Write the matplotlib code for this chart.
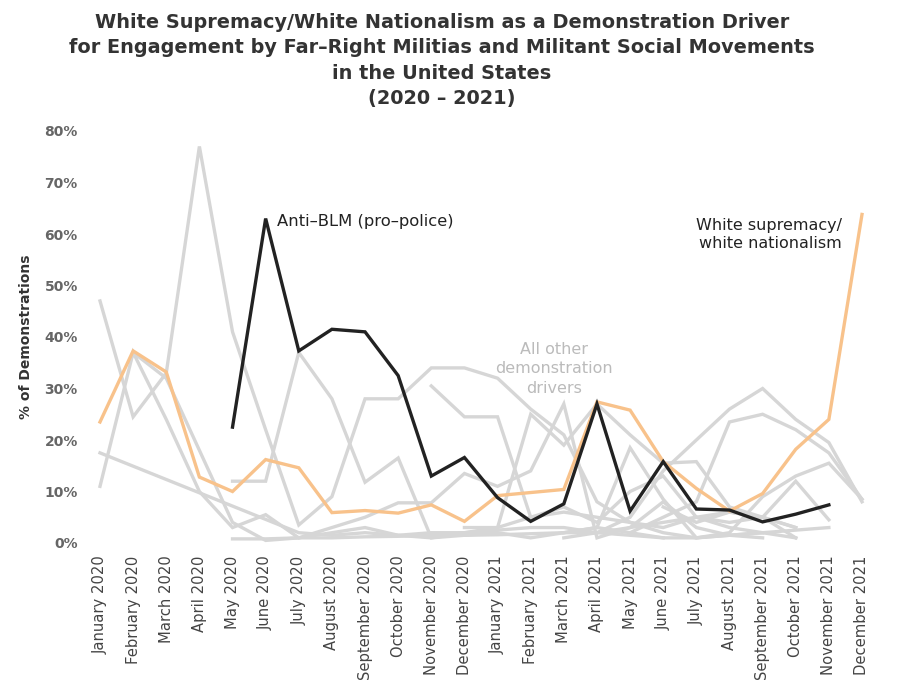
import numpy as np
import matplotlib.pyplot as plt

months = ['January 2020', 'February 2020', 'March 2020', 'April 2020', 'May 2020',
          'June 2020', 'July 2020', 'August 2020', 'September 2020', 'October 2020',
          'November 2020', 'December 2020', 'January 2021', 'February 2021',
          'March 2021', 'April 2021', 'May 2021', 'June 2021', 'July 2021',
          'August 2021', 'September 2021', 'October 2021', 'November 2021',
          'December 2021']

N = None
white_supremacy = [23.5, 37.3, 33.2, 12.8, 10, 16.2, 14.6, 5.9, 6.3, 5.8, 7.4, 4.2,
                   9.2, 9.8, 10.4, 27.4, 25.8, 15.8, 10.6, 6.2, 9.6, 18.2, 24, 63.8]
anti_blm = [N, N, N, N, 22.5, 63, 37.3, 41.5, 41, 32.5, 13, 16.6,
            8.8, 4.2, 7.6, 27, 6.2, 15.8, 6.6, 6.4, 4.1, 5.6, 7.4, N]

# other demonstration drivers (grey)
other1 = [47, 24.5, 33, 77, 41, 22, 3.5, 9, 28, 28, 34, 34, 32, 26, 21, 8, 4, 2, 1, 1.5, 2, 1, N, N]
other2 = [11, 37, 24, 10, 3, 5.5, 1, 2, 3, 1.5, 1, 1.5, 2, 1, 2, 3, 2, 1, N, N, N, N, N, N]
other3 = [17.5, N, N, N, N, N, 2, 1.5, 2, 1.5, 2, 2, 2.5, 3, 3, 2, 3, 4, 5, 4, 5, 3, N, N]
other4 = [N, N, N, N, 0.8, 0.8, 1, 1, 1.2, 1.3, 1.5, 1.5, 1.6, 1.8, 2, 2, 1.5, 1, 1, 1.5, 2, 2.5, 3, N]
other5 = [N, N, N, N, 12, 12, 37, 28, 11.8, 16.5, 1, 2, 3, 5, 6, 5, 4, 3, 5, 3, 2, N, N, N]
other6 = [N, 37, 32, 18, 4, 0.5, 1, 3, 5, 7.8, 7.8, 13.5, 11, 14, 27, 1, 3, 8, 3, 1.5, 1, N, N, N]
other7 = [N, N, N, N, N, N, N, N, N, N, 30.5, 24.5, 24.5, 5, 7, 4, 10, 13, 5, 6, 5, 3, N, N]
other8 = [N, N, N, N, N, N, N, N, N, N, N, 3, 3, 25, 19, 27, 21, 15.5, 15.8, 7, 5, 1, N, N]
other9 = [N, N, N, N, N, N, N, N, N, N, N, N, N, N, 1, 2, 5, 14, 20, 26, 30, 24, 19.5, 8]
other10 = [N, N, N, N, N, N, N, N, N, N, N, N, N, N, N, N, 2, 5, 8, 23.5, 25, 22, 17.5, 8.5]
other11 = [N, N, N, N, N, N, N, N, N, N, N, N, N, N, 2, 3, 18.5, 8.5, 1, 2, 9, 13, 15.5, 8.5]
other12 = [N, N, N, N, N, N, N, N, N, N, N, N, N, N, N, N, N, 7, 4, 6, 5, 12, 4.5, N]
others = [other1, other2, other3, other4, other5, other6, other7, other8,
          other9, other10, other11, other12]

x = np.arange(len(months))


def draw(ax, vals, **kw):
    v = np.array([np.nan if a is None else a for a in vals], dtype=float)
    m = ~np.isnan(v)
    ax.plot(x[m], v[m], clip_on=False, solid_joinstyle='miter', **kw)


plt.rcParams['font.family'] = ['DejaVu Sans']
fig = plt.figure(figsize=(9.02, 6.97), dpi=100)
ax = fig.add_axes([100 / 902, (697 - 543) / 697, 762 / 902, 412 / 697])

for o in others:
    draw(ax, o, color='#d6d6d6', lw=2.4)
draw(ax, white_supremacy, color='#f8c28b', lw=2.4)
draw(ax, anti_blm, color='#222222', lw=2.4)

ax.set_xlim(0, 23)
ax.set_ylim(0, 80)
for s in ax.spines.values():
    s.set_visible(False)

ax.set_xticks(x)
ax.set_xticklabels(months, rotation=90, fontsize=10.6, color='#444444')
ax.set_yticks(np.arange(0, 81, 10))
ax.set_yticklabels([f'{v}%' for v in range(0, 81, 10)], fontsize=10,
                   fontweight='bold', color='#666666')
ax.tick_params(axis='both', length=0)
ax.tick_params(axis='y', pad=16)
ax.tick_params(axis='x', pad=9)
ax.set_ylabel('% of Demonstrations', fontsize=10, fontweight='bold',
              color='#333333', labelpad=8)

ax.text(5.35, 62.5, 'Anti–BLM (pro–police)', fontsize=11.8, color='#222222',
        va='center', ha='left')
ax.text(22.4, 59.9, 'White supremacy/\nwhite nationalism', fontsize=11.5,
        color='#222222', va='center', ha='right', linespacing=1.3)
ax.text(13.7, 33.8, 'All other\ndemonstration\ndrivers', fontsize=11.5,
        color='#bbbbbb', va='center', ha='center', linespacing=1.35)

fig.text(0.49, 0.981, 'White Supremacy/White Nationalism as a Demonstration Driver\n'
         'for Engagement by Far–Right Militias and Militant Social Movements\n'
         'in the United States\n(2020 – 2021)',
         ha='center', va='top', fontsize=13.9, fontweight='bold', color='#333333',
         linespacing=1.41)

fig.savefig('out.png', dpi=100, facecolor='white')
